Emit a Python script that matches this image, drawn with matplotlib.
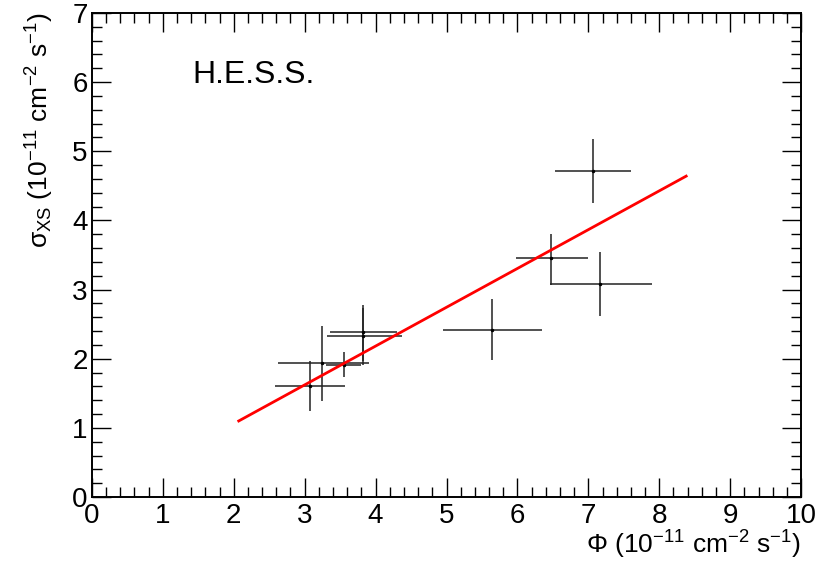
import numpy as np
import matplotlib
matplotlib.use("Agg")
import matplotlib.pyplot as plt
from matplotlib.ticker import MultipleLocator

plt.rcParams['font.family'] = ['Liberation Sans', 'DejaVu Sans']
plt.rcParams['mathtext.fontset'] = 'custom'
plt.rcParams['mathtext.rm'] = 'Liberation Sans'
plt.rcParams['mathtext.it'] = 'Liberation Sans'

# flux vs excess variance, points with asymmetric errors
flux = [3.07, 3.25, 3.55, 3.82, 3.82, 5.64, 6.48, 7.17, 7.07]
flux_lo = [0.49, 0.63, 0.25, 0.46, 0.51, 0.69, 0.50, 0.71, 0.54]
flux_hi = [0.50, 0.65, 0.25, 0.48, 0.55, 0.71, 0.51, 0.73, 0.53]
sigma = [1.61, 1.94, 1.91, 2.38, 2.33, 2.42, 3.45, 3.08, 4.71]
sigma_lo = [0.36, 0.55, 0.18, 0.41, 0.42, 0.44, 0.39, 0.46, 0.46]
sigma_hi = [0.36, 0.54, 0.18, 0.40, 0.40, 0.45, 0.36, 0.47, 0.46]

# linear fit endpoints
fit_x = [2.07, 8.38]
fit_y = [1.10, 4.64]

fig = plt.figure(figsize=(8.21, 5.61), dpi=100)
ax = fig.add_axes([0.112, 0.114, 0.8637, 0.863])

ax.errorbar(flux, sigma, xerr=[flux_lo, flux_hi], yerr=[sigma_lo, sigma_hi],
            fmt='o', ms=1.5, color='black', ecolor='#222222', elinewidth=1.1,
            capsize=0, zorder=2)
ax.plot(fit_x, fit_y, color='red', lw=2.0, zorder=3)

ax.set_xlim(0, 10)
ax.set_ylim(0, 7)
ax.xaxis.set_major_locator(MultipleLocator(1))
ax.xaxis.set_minor_locator(MultipleLocator(0.2))
ax.yaxis.set_major_locator(MultipleLocator(1))
ax.yaxis.set_minor_locator(MultipleLocator(0.2))
ax.tick_params(which='both', direction='in', top=True, right=True, width=1.0,
               labelsize=20)
ax.tick_params(axis='x', pad=4)
ax.tick_params(axis='y', pad=3)
ax.tick_params(which='major', length=14)
ax.tick_params(which='minor', length=7)
for s in ax.spines.values():
    s.set_linewidth(1.4)

ax.set_xlabel(r'$\Phi$ (10$^{-11}$ cm$^{-2}$ s$^{-1}$)', fontsize=19,
              ha='right', x=1.0, labelpad=0)
ax.set_ylabel(r'$\sigma_{\rm XS}$ (10$^{-11}$ cm$^{-2}$ s$^{-1}$)', fontsize=19,
              ha='right', y=1.0, labelpad=12)

ax.text(0.141, 0.872, 'H.E.S.S.', transform=ax.transAxes, fontsize=23,
        ha='left', va='center')

fig.savefig('out.png', dpi=100)
